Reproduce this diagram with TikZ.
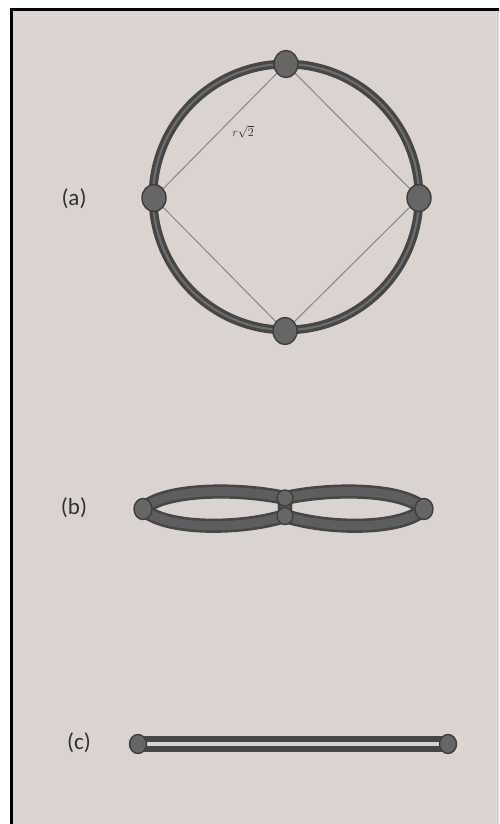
\documentclass[tikz,border=0pt]{standalone}
\usepackage{fontspec}
\setmainfont{Carlito}
\usetikzlibrary{shapes.geometric}
\definecolor{bgc}{RGB}{218,211,208}
\definecolor{ringdark}{RGB}{70,70,70}
\definecolor{ringmid}{RGB}{108,108,108}
\definecolor{bandmid}{RGB}{94,94,94}
\definecolor{nodefill}{RGB}{102,102,102}
\definecolor{nodeedge}{RGB}{62,62,62}
\definecolor{chordc}{RGB}{138,134,132}
\definecolor{labc}{RGB}{48,48,48}
\definecolor{barlight}{RGB}{216,210,208}
\pgfdeclarelayer{back}
\pgfsetlayers{back,main}
\begin{document}
\begin{tikzpicture}[x=1pt,y=-1pt,
  vtx/.style={ellipse, fill=nodefill, draw=nodeedge, line width=1.4pt, inner sep=0pt},
  bigvtx/.style={vtx, minimum width=24pt, minimum height=27pt},
  smallvtx/.style={vtx, minimum width=17pt, minimum height=19pt},
  ringline/.style={draw=ringdark, line width=3.3pt, double=ringmid, double distance=2.2pt},
  bandline/.style={draw=ringdark, line width=2.6pt, double=bandmid, double distance=9pt, line join=round},
  barline/.style={draw=ringdark, line width=5.5pt, double=barlight, double distance=4.5pt},
  chord/.style={draw=chordc, line width=1pt},
  partlabel/.style={text=labc, font=\fontsize{23}{23}\selectfont, inner sep=0pt}
]
\useasboundingbox (0,0) rectangle (499,824);
\begin{pgfonlayer}{back}
  \fill[white] (0,0) rectangle (499,824);
  \fill[bgc] (10,8) rectangle (499,824);
  \draw[black, line width=3pt] (11.5,824) -- (11.5,9.5) -- (499,9.5);
\end{pgfonlayer}

% (a)
\coordinate (ac) at (286,197);
\node[bigvtx] (atop) at (286,64) {};
\node[bigvtx] (aright) at (419,198) {};
\node[bigvtx] (abot) at (285,331) {};
\node[bigvtx] (aleft) at (154,198) {};
\node[partlabel] (la) at (74,199) {(a)};
\node[text=labc, inner sep=0pt, font=\fontsize{12}{12}\selectfont] (rlab) at (243,132) {$r\sqrt{2}$};
\begin{pgfonlayer}{back}
  \draw[ringline] (ac) circle[radius=133];
  \draw[chord] (atop) -- (aright) -- (abot) -- (aleft) -- (atop);
\end{pgfonlayer}

% (b)
\node[smallvtx, minimum width=18pt, minimum height=21pt] (bl) at (143,509) {};
\node[smallvtx, minimum width=18pt, minimum height=21pt] (br) at (424,509) {};
\node[smallvtx, minimum width=16pt, minimum height=16pt] (bmt) at (285,498) {};
\node[smallvtx, minimum width=16pt, minimum height=17pt] (bmb) at (285,516) {};
\node[partlabel] (lb) at (74,508) {(b)};
\begin{pgfonlayer}{back}
  \draw[bandline] (bl.center) .. controls (165,488) and (240,488) .. (bmt.center)
     -- (bmb.center) .. controls (240,530) and (165,530) .. (bl.center) -- cycle;
  \draw[bandline] (br.center) .. controls (402,488) and (330,488) .. (bmt.center)
     -- (bmb.center) .. controls (330,530) and (402,530) .. (br.center) -- cycle;
\end{pgfonlayer}

% (c)
\node[smallvtx] (cl) at (138,744) {};
\node[smallvtx] (cr) at (448,744) {};
\node[partlabel] (lc) at (79,743) {(c)};
\begin{pgfonlayer}{back}
  \draw[barline] (cl.center) -- (cr.center);
\end{pgfonlayer}
\end{tikzpicture}
\end{document}
